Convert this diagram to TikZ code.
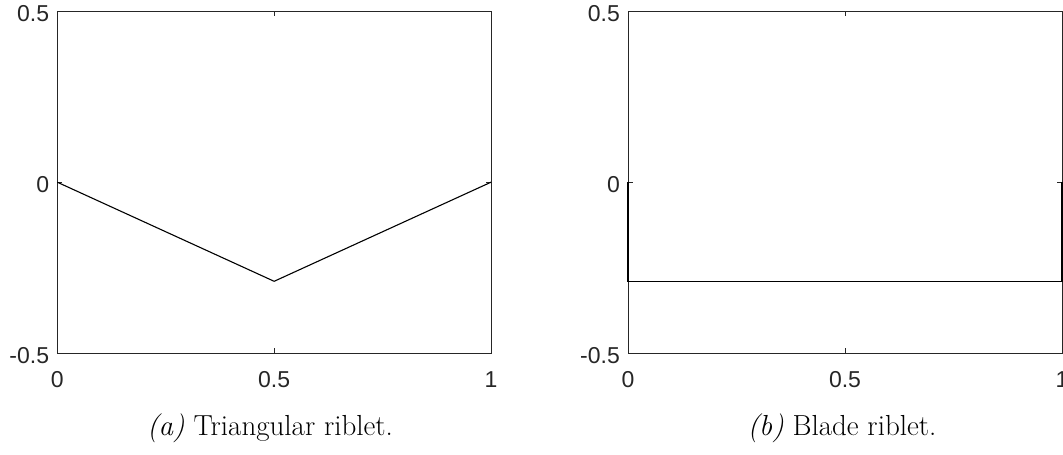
\documentclass[tikz,border=0pt]{standalone}
\usepackage{fontspec}
\newfontfamily\axfont{Liberation Sans}
\definecolor{axgray}{rgb}{0.15,0.15,0.15}
\tikzset{
  axisline/.style={draw=axgray, line width=0.9pt},
  tickmark/.style={draw=axgray, line width=0.9pt},
  dataline/.style={draw=black, line width=1.1pt, line join=miter},
  ticklabel/.style={font=\axfont\fontsize{23}{23}\selectfont, text=axgray, inner sep=0pt},
  caplabel/.style={font=\fontsize{29}{29}\selectfont, text=black, inner sep=0pt, anchor=base}
}
\begin{document}
\begin{tikzpicture}[x=1pt,y=-1pt]
\useasboundingbox (0,0) rectangle (1063,455);
% ---------- left plot ----------
\draw[axisline] (57.3,11) rectangle (491,353.3);
\draw[tickmark] (274.15,353.3) -- ++(0,-5);
\draw[tickmark] (274.15,11) -- ++(0,5);
\draw[tickmark] (57.3,182.2) -- ++(5,0);
\draw[tickmark] (491,182.2) -- ++(-5,0);
\coordinate (la) at (57.3,182.2);
\coordinate (lb) at (274.15,281.3);
\coordinate (lc) at (491,182.2);
\draw[dataline] (la) -- (lb) -- (lc);
\node[ticklabel, anchor=base east] (ly1) at (49.3,21) {0.5};
\node[ticklabel, anchor=base east] (ly2) at (49.3,192.2) {0};
\node[ticklabel, anchor=base east] (ly3) at (49.3,363.3) {-0.5};
\node[ticklabel, anchor=base] (lx1) at (57.3,387) {0};
\node[ticklabel, anchor=base] (lx2) at (274.15,387) {0.5};
\node[ticklabel, anchor=base] (lx3) at (491,387) {1};
\node[caplabel] (capa) at (270,435) {\textit{(a)} Triangular riblet.};
% ---------- right plot ----------
\draw[axisline] (628,11) rectangle (1062,353.3);
\draw[tickmark] (845,353.3) -- ++(0,-5);
\draw[tickmark] (845,11) -- ++(0,5);
\draw[tickmark] (628,182.2) -- ++(5,0);
\draw[tickmark] (1062,182.2) -- ++(-5,0);
\coordinate (ra) at (628,182.2);
\coordinate (rb) at (628,281.3);
\coordinate (rc) at (1062,281.3);
\coordinate (rd) at (1062,182.2);
\draw[dataline] (ra) -- (rb) -- (rc) -- (rd);
\node[ticklabel, anchor=base east] (ry1) at (620,21) {0.5};
\node[ticklabel, anchor=base east] (ry2) at (620,192.2) {0};
\node[ticklabel, anchor=base east] (ry3) at (620,363.3) {-0.5};
\node[ticklabel, anchor=base] (rx1) at (628,387) {0};
\node[ticklabel, anchor=base] (rx2) at (845,387) {0.5};
\node[ticklabel, anchor=base] (rx3) at (1062,387) {1};
\node[caplabel] (capb) at (842,435) {\textit{(b)} Blade riblet.};
\end{tikzpicture}
\end{document}
